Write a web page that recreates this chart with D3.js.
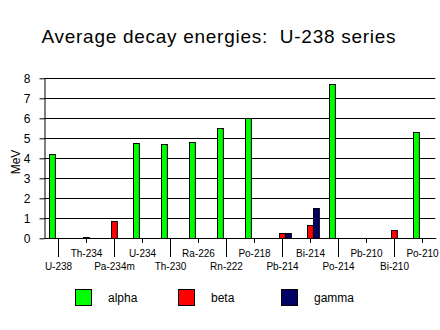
<!DOCTYPE html>
<html><head><meta charset="utf-8">
<script src="https://cdn.jsdelivr.net/npm/d3@7"></script>
<style>html,body{margin:0;padding:0;background:#fff;}svg{display:block;font-family:Arial,"Liberation Sans",sans-serif;}</style>
</head><body>
<svg id="c" width="440" height="330"></svg>
<script>
const categories = ["U-238","Th-234","Pa-234m","U-234","Th-230","Ra-226","Rn-222","Po-218","Pb-214","Bi-214","Po-214","Pb-210","Bi-210","Po-210"];
const seriesNames = ["alpha","beta","gamma"];
const alpha = [4.2,0,0,4.76,4.71,4.81,5.5,6.0,0,0,7.71,0,0,5.31];
const beta  = [0,0.05,0.86,0,0,0,0,0,0.26,0.66,0,0,0.41,0];
const gamma = [0,0,0,0,0,0,0,0,0.26,1.51,0,0,0,0];
const colors = ["#00ff00","#ff0000","#000066"];
const yTicks = [0,1,2,3,4,5,6,7,8];
const title = "Average decay energies:  U-238 series";
const yLabel = "MeV";

(function(){
const svg = d3.select("#c");
const pLeft = 44.3, pRight = 436.3, pTop = 78.3, pBottom = 238.3;

const x0 = d3.scaleBand().domain(categories).range([pLeft, pRight]).paddingInner(0.32).paddingOuter(0.16);
const x1 = d3.scaleBand().domain(seriesNames).range([0, x0.bandwidth()]);
const y = d3.scaleLinear().domain([0, 8]).range([pBottom, pTop]);

const values = [alpha, beta, gamma];

// title
svg.append("text").attr("x", 41.5).attr("y", 43).attr("font-size", 19)
  .style("white-space", "pre")
  .attr("textLength", 354).attr("lengthAdjust", "spacing").text(title);

// gridlines
svg.append("g").selectAll("line").data(yTicks.filter(d => d > 0)).join("line")
  .attr("x1", pLeft).attr("x2", pRight - 1).attr("y1", d => Math.round(y(d)) + 0.5).attr("y2", d => Math.round(y(d)) + 0.5)
  .attr("stroke", "#000");

// y axis
const yAxis = svg.append("g").attr("transform", `translate(${Math.round(pLeft)+0.5},0)`)
  .call(d3.axisLeft(y).tickValues(yTicks).tickSize(5).tickPadding(9).tickSizeOuter(0));
yAxis.select(".domain").attr("stroke", "#000");
yAxis.selectAll(".tick line").attr("stroke", "#000");
yAxis.selectAll(".tick text").attr("font-size", 12).attr("font-family", "Arial, 'Liberation Sans', sans-serif").attr("fill", "#000");

svg.append("text").attr("transform", "translate(20,162) rotate(-90)").attr("text-anchor", "middle")
  .attr("font-size", 12).text(yLabel);

// bars
const data = [];
categories.forEach((c, i) => seriesNames.forEach((s, j) => { if (values[j][i] > 0) data.push({c, s, v: values[j][i], j}); }));
svg.append("g").selectAll("rect").data(data).join("rect")
  .attr("x", d => Math.round(x0(d.c) + x1(d.s)) + 0.5)
  .attr("width", x1.bandwidth() - 0.5)
  .attr("y", d => Math.round(y(d.v)) + 0.5)
  .attr("height", d => Math.max(0, Math.round(y(0)) - Math.round(y(d.v))))
  .attr("fill", d => colors[d.j]).attr("stroke", "#000").attr("stroke-width", 1);

// x axis line
svg.append("line").attr("x1", pLeft).attr("x2", pRight).attr("y1", Math.round(pBottom) + 0.5).attr("y2", Math.round(pBottom) + 0.5).attr("stroke", "#000");

// x ticks and labels (staggered)
const xg = svg.append("g");
categories.forEach((c, i) => {
  const cx = Math.round(x0(c) + x0.bandwidth() / 2) + 0.5;
  const even = i % 2 === 0;
  xg.append("line").attr("x1", cx).attr("x2", cx).attr("y1", Math.round(pBottom) + 0.5).attr("y2", even ? 257 : 243).attr("stroke", "#000");
  xg.append("text").attr("x", cx).attr("y", even ? 270 : 257).attr("text-anchor", "middle").attr("font-size", 10).text(c);
});

// legend
const legX = [75, 178, 281];
const lg = svg.append("g");
seriesNames.forEach((s, j) => {
  lg.append("rect").attr("x", legX[j] + 0.5).attr("y", 289.5).attr("width", 16).attr("height", 16)
    .attr("fill", colors[j]).attr("stroke", "#000");
  lg.append("text").attr("x", legX[j] + 33).attr("y", 302).attr("font-size", 12).text(s);
});
})();
</script>
</body></html>
